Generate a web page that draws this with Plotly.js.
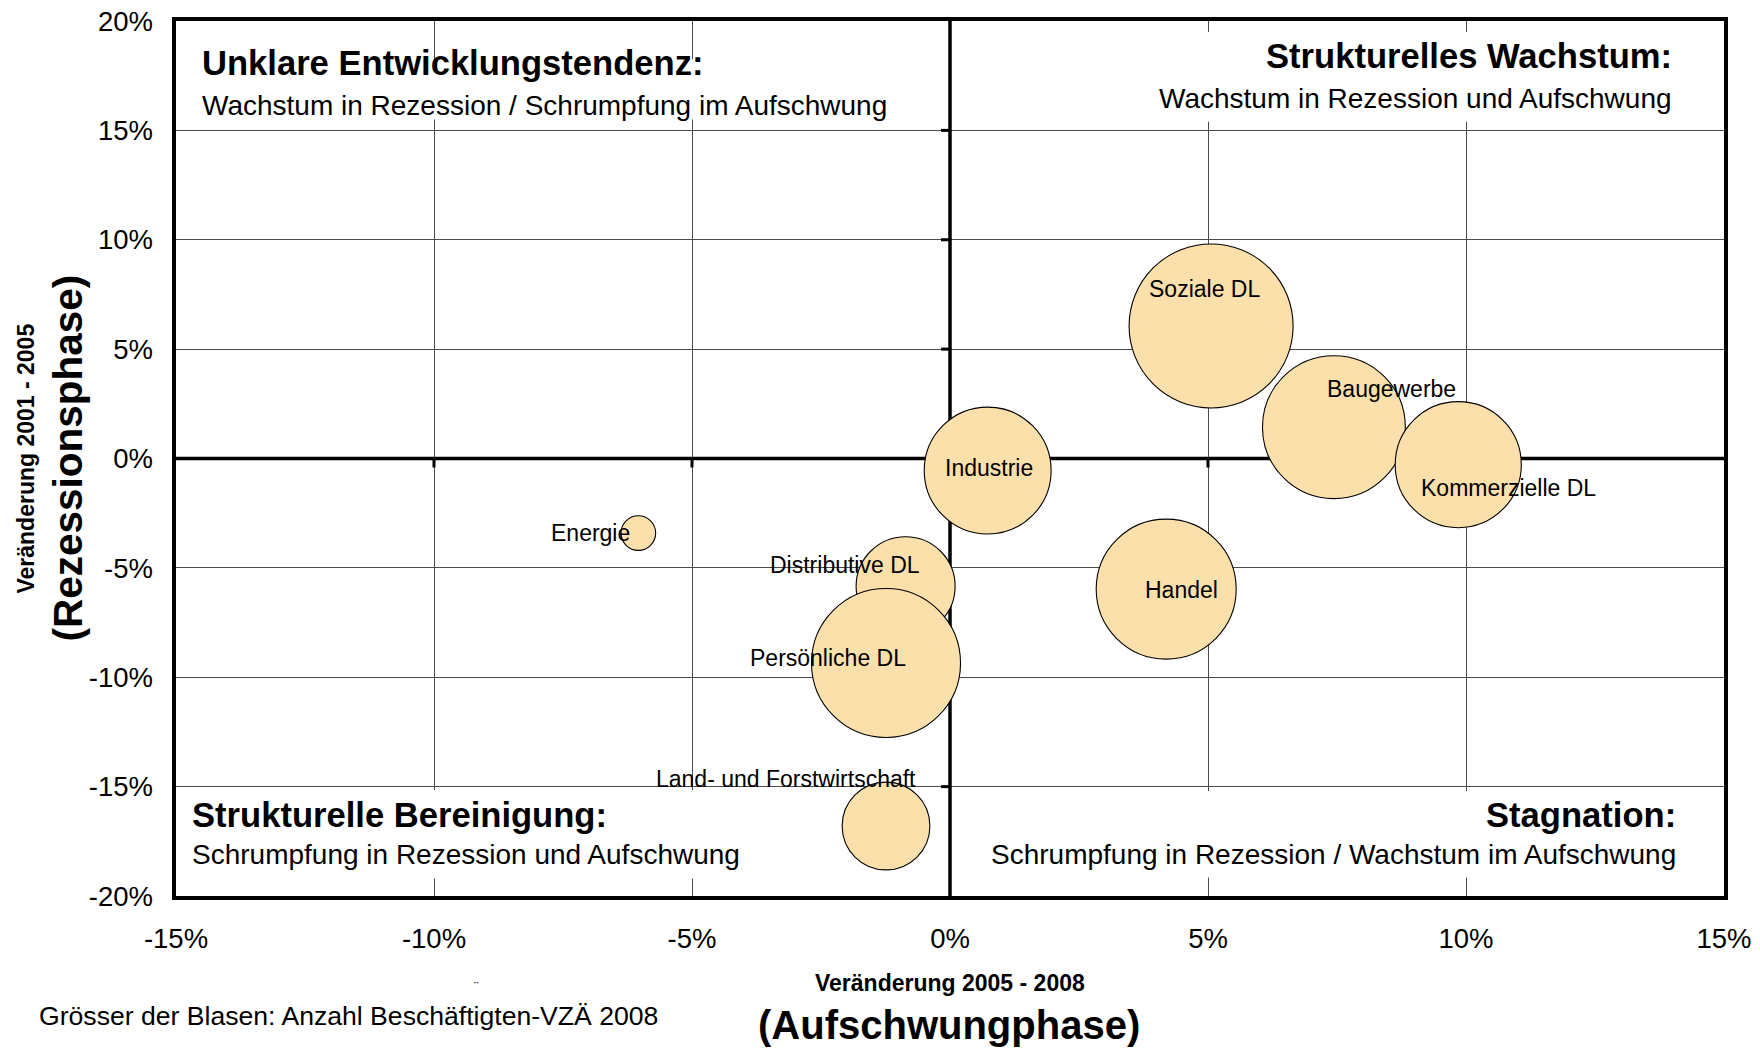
<!DOCTYPE html>
<html>
<head>
<meta charset="utf-8">
<script src="https://cdn.plot.ly/plotly-3.0.1.min.js"></script>
<style>html,body{margin:0;padding:0;background:#fff;}</style>
</head>
<body>
<div id="chart" style="width:1760px;height:1048px;"></div>
<script>
// ---- data ----
const sectors = ["Energie", "Land- und Forstwirtschaft", "Industrie", "Baugewerbe", "Kommerzielle DL", "Handel", "Distributive DL", "Persönliche DL", "Soziale DL"];
const changeUpswing = [-6.04, -1.24, 0.73, 7.44, 9.85, 4.19, -0.86, -1.24, 5.06];      // Veränderung 2005 - 2008 (%)
const changeRecession = [-3.41, -16.8, -0.55, 1.43, -0.28, -5.97, -5.84, -9.35, 6.06];   // Veränderung 2001 - 2005 (%)
const employment = [1200, 7700, 16100, 20400, 15900, 19600, 9800, 22200, 26900];        // Beschäftigte VZÄ 2008 (estimated, relative)
const xTickVals = [-15, -10, -5, 0, 5, 10, 15];
const xTickText = ["-15%", "-10%", "-5%", "0%", "5%", "10%", "15%"];
const yTickVals = [-20, -15, -10, -5, 0, 5, 10, 15, 20];
const yTickText = ["-20%", "-15%", "-10%", "-5%", "0%", "5%", "10%", "15%", "20%"];
const quadrantTitles = ["Unklare Entwicklungstendenz:", "Strukturelles Wachstum:", "Strukturelle Bereinigung:", "Stagnation:"];
const quadrantSubtitles = ["Wachstum in Rezession / Schrumpfung im Aufschwung", "Wachstum in Rezession und Aufschwung", "Schrumpfung in Rezession und Aufschwung", "Schrumpfung in Rezession / Wachstum im Aufschwung"];

// ---- styling / label placement (pixel offsets from bubble centre) ----
const labelShift = {
  "Energie": [-48, 0], "Land- und Forstwirtschaft": [-100, 47], "Industrie": [1, 3],
  "Baugewerbe": [58, 38], "Kommerzielle DL": [50, -23], "Handel": [15, -1],
  "Distributive DL": [-61, 21], "Persönliche DL": [-58, 5], "Soziale DL": [-7, 37]
};
const FONT = "Liberation Sans, Arial, Helvetica, sans-serif";
const BUBBLE = "#FCE0AC";

const trace = {
  type: "scatter", mode: "markers",
  x: changeUpswing, y: changeRecession, text: sectors,
  marker: {size: employment, sizemode: "area", sizeref: 2, color: BUBBLE, opacity: 1,
           line: {color: "#000", width: 1.1}},
  hoverinfo: "skip", cliponaxis: false
};

const annotations = sectors.map((s, i) => ({
  x: changeUpswing[i], y: changeRecession[i], xref: "x", yref: "y",
  text: s, showarrow: false, xanchor: "center", yanchor: "middle",
  xshift: labelShift[s][0], yshift: labelShift[s][1],
  font: {family: FONT, size: 23, color: "#000"}
}));

// quadrant texts (paper coords)
const qPos = [
  {x: 0.0158, yt: 0.952, ys: 0.9035, anchor: "left"},
  {x: 0.968, yt: 0.960, ys: 0.911, anchor: "right"},
  {x: 0.009, yt: 0.0926, ys: 0.0469, anchor: "left"},
  {x: 0.970, yt: 0.0926, ys: 0.0469, anchor: "right"}
];
qPos.forEach((p, i) => {
  annotations.push({xref: "paper", yref: "paper", x: p.x, y: p.yt, xanchor: p.anchor, yanchor: "middle",
    text: "<b>" + quadrantTitles[i] + "</b>", showarrow: false, font: {family: FONT, size: 34.6, color: "#000"}});
  annotations.push({xref: "paper", yref: "paper", x: p.x, y: p.ys, xanchor: p.anchor, yanchor: "middle",
    text: quadrantSubtitles[i], showarrow: false, font: {family: FONT, size: 28, color: "#000"}});
});

// axis titles and note
annotations.push(
  {xref: "paper", yref: "paper", x: 0.5, y: -0.099, text: "<b>Veränderung 2005 - 2008</b>", showarrow: false,
   xanchor: "center", yanchor: "middle", font: {family: FONT, size: 23, color: "#000"}},
  {xref: "paper", yref: "paper", x: 0.4995, y: -0.147, text: "<b>(Aufschwungphase)</b>", showarrow: false,
   xanchor: "center", yanchor: "middle", font: {family: FONT, size: 40, color: "#000"}},
  {xref: "paper", yref: "paper", x: -0.0975, y: 0.5, text: "<b>Veränderung 2001 - 2005</b>", showarrow: false,
   textangle: -90, xanchor: "center", yanchor: "middle", font: {family: FONT, size: 23, color: "#000"}},
  {xref: "paper", yref: "paper", x: -0.0704, y: 0.5, text: "<b>(Rezessionsphase)</b>", showarrow: false,
   textangle: -90, xanchor: "center", yanchor: "middle", font: {family: FONT, size: 40.5, color: "#000"}},
  {xref: "paper", yref: "paper", x: -0.0895, y: -0.137, text: "Grösser der Blasen: Anzahl Beschäftigten-VZÄ 2008",
   showarrow: false, xanchor: "left", yanchor: "middle", font: {family: FONT, size: 26.6, color: "#000"}},
  {xref: "paper", yref: "paper", x: 0.1944, y: -0.104, text: "¨", showarrow: false,
   xanchor: "center", yanchor: "middle", font: {family: FONT, size: 14, color: "#000"}}
);

// shapes: white text boxes over grid, zero cross lines and their ticks
const shapes = [];
const boxes = [[-14.7, -0.25, 15.5, 18.25], [1.0, 14.8, 15.4, 19.5], [-14.7, -0.25, -15.15, -19.2], [0.25, 14.8, -15.2, -19.15]];
boxes.forEach(b => shapes.push({type: "rect", xref: "x", yref: "y", x0: b[0], x1: b[1], y0: b[2], y1: b[3],
  fillcolor: "#fff", line: {width: 0}, layer: "between"}));
shapes.push({type: "line", xref: "x", yref: "y", x0: 0, x1: 0, y0: yTickVals[0], y1: yTickVals[yTickVals.length - 1],
  line: {color: "#000", width: 3.5}, layer: "between"});
shapes.push({type: "line", xref: "x", yref: "y", x0: xTickVals[0], x1: xTickVals[xTickVals.length - 1], y0: 0, y1: 0,
  line: {color: "#000", width: 3.5}, layer: "between"});
xTickVals.slice(1, -1).forEach(v => { if (v !== 0) shapes.push({type: "line", xref: "x", yref: "y", ysizemode: "pixel", yanchor: 0,
  x0: v, x1: v, y0: 0, y1: -9, line: {color: "#000", width: 3}, layer: "between"}); });
yTickVals.slice(1, -1).forEach(v => { if (v !== 0) shapes.push({type: "line", xref: "x", yref: "y", xsizemode: "pixel", xanchor: 0,
  y0: v, y1: v, x0: 0, x1: -9, line: {color: "#000", width: 3}, layer: "between"}); });

const axisCommon = {
  showgrid: true, gridcolor: "#4a4a4a", gridwidth: 1, zeroline: false,
  showline: true, mirror: true, linecolor: "#000", linewidth: 4,
  ticks: "outside", tickcolor: "rgba(0,0,0,0)", tickfont: {family: FONT, size: 27.5, color: "#000"},
  fixedrange: true, automargin: false
};

const layout = {
  width: 1760, height: 1048,
  margin: {l: 176, r: 36, t: 21, b: 152},
  paper_bgcolor: "#fff", plot_bgcolor: "#fff",
  showlegend: false, hovermode: false,
  xaxis: Object.assign({}, axisCommon, {range: [-15, 15], tickvals: xTickVals, ticktext: xTickText, ticklen: 15}),
  yaxis: Object.assign({}, axisCommon, {range: [-20, 20], tickvals: yTickVals, ticktext: yTickText, ticklen: 13.5}),
  annotations: annotations,
  shapes: shapes
};

Plotly.newPlot("chart", [trace], layout, {displayModeBar: false, staticPlot: true});
</script>
</body>
</html>
